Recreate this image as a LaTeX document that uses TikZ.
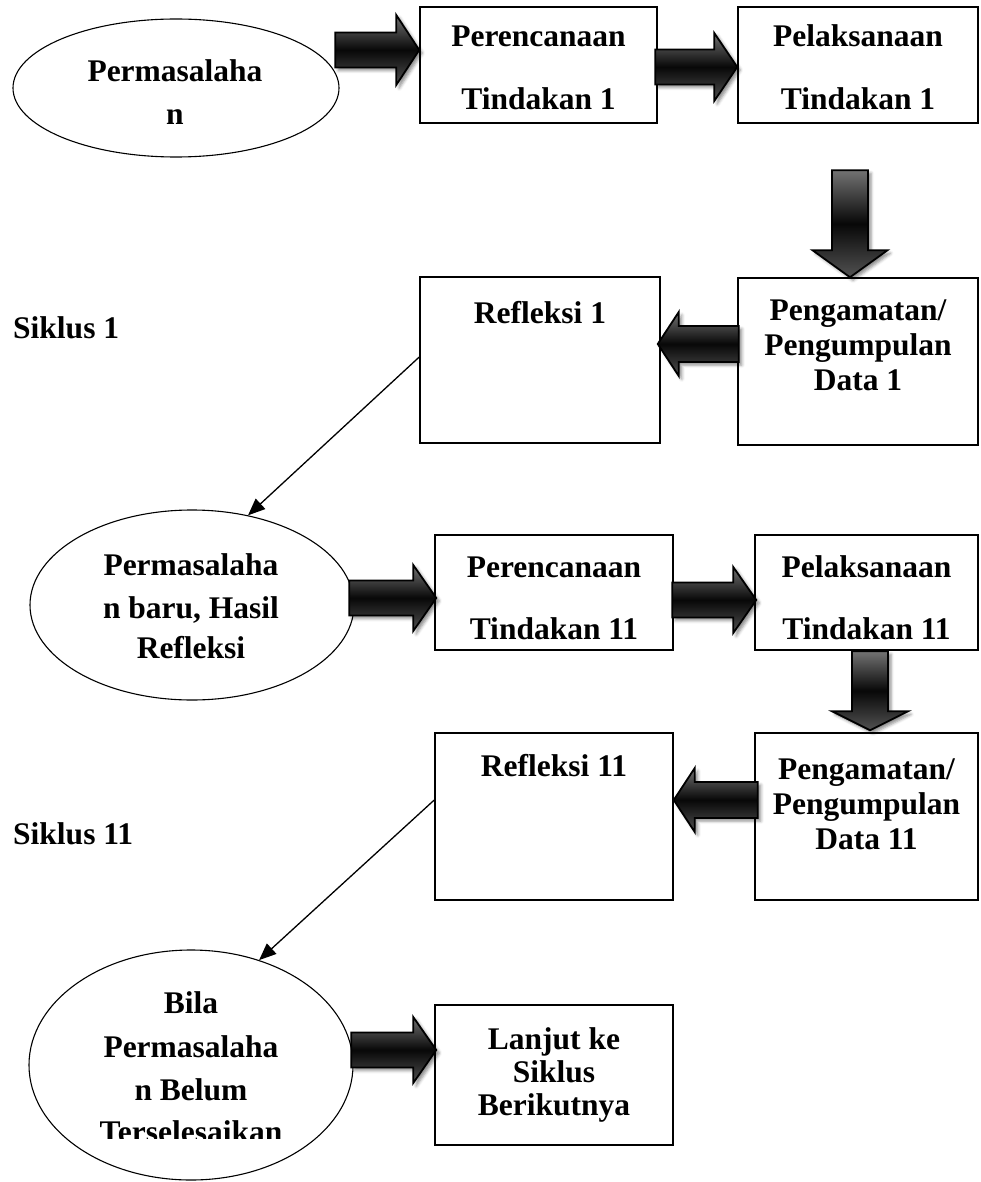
\documentclass[tikz,border=0pt]{standalone}
\usepackage{fontspec}
\setmainfont{Liberation Serif}
\usetikzlibrary{shapes.geometric,arrows.meta,shadows.blur}
\tikzset{
  box/.style={draw=black, line width=1.5pt, rectangle, inner sep=0pt},
  oval/.style={draw=black, line width=1.1pt, ellipse, inner sep=0pt},
  txt/.style={font=\fontsize{31.5}{36}\selectfont\bfseries, inner sep=0pt, anchor=base},
  blk/.style={draw=black, line width=1.8pt, line join=miter,
    top color=black!55, bottom color=black!68, middle color=black!97,
    blur shadow={shadow xshift=3pt, shadow yshift=-3pt, shadow blur radius=3pt, shadow opacity=45}},
  link/.style={line width=1.3pt, -{Triangle[length=17pt,width=14pt]}}
}
% right-pointing block arrow: tip, length, head half-width, head length
\newcommand{\rblk}[4]{\begin{scope}[shift={(#1)}]
  \path[blk] (0,0) -- (-#4,#3) -- (-#4,17.5) -- (-#2,17.5) -- (-#2,-17.5) -- (-#4,-17.5) -- (-#4,-#3) -- cycle;
  \end{scope}}
\newcommand{\lblk}[4]{\begin{scope}[shift={(#1)}]
  \path[blk] (0,0) -- (#4,#3) -- (#4,18) -- (#2,18) -- (#2,-18) -- (#4,-18) -- (#4,-#3) -- cycle;
  \end{scope}}
\newcommand{\dblk}[4]{\begin{scope}[shift={(#1)}]
  \path[blk] (0,0) -- (-#3,#4) -- (-18,#4) -- (-18,#2) -- (18,#2) -- (18,#4) -- (#3,#4) -- cycle;
  \end{scope}}
\begin{document}
\begin{tikzpicture}[x=1pt,y=1pt]
\useasboundingbox (0,0) rectangle (980,-1182);
% shapes
\node[oval, minimum width=326pt, minimum height=138pt] (e1) at (176,-88) {};
\node[box, minimum width=237pt, minimum height=116pt] (p1) at (538.5,-65) {};
\node[box, minimum width=240pt, minimum height=116pt] (l1) at (858,-65) {};
\node[box, minimum width=240pt, minimum height=166pt] (r1) at (540,-360) {};
\node[box, minimum width=240pt, minimum height=167pt] (g1) at (858,-361.5) {};
\node[oval, minimum width=324pt, minimum height=190pt] (e2) at (192,-605) {};
\node[box, minimum width=238pt, minimum height=115pt] (p2) at (554,-592.5) {};
\node[box, minimum width=223pt, minimum height=115pt] (l2) at (866.5,-592.5) {};
\node[box, minimum width=238pt, minimum height=167pt] (r2) at (554,-816.5) {};
\node[box, minimum width=223pt, minimum height=167pt] (g2) at (866.5,-816.5) {};
\node[oval, minimum width=324pt, minimum height=230pt] (e3) at (191,-1065) {};
\node[box, minimum width=238pt, minimum height=140pt] (lj) at (554,-1075) {};
% texts
\node[txt] (t1a) at (175,-82) {Permasalaha};
\node[txt] (t1b) at (175,-125) {n};
\node[txt] (t2a) at (538.5,-47) {Perencanaan};
\node[txt] (t2b) at (538.5,-110) {Tindakan 1};
\node[txt] (t3a) at (858,-47) {Pelaksanaan};
\node[txt] (t3b) at (858,-110) {Tindakan 1};
\node[txt] (t4) at (540,-323) {Refleksi 1};
\node[txt] (t5a) at (858,-320) {Pengamatan/};
\node[txt] (t5b) at (858,-355) {Pengumpulan};
\node[txt] (t5c) at (858,-390) {Data 1};
\node[txt, anchor=base west] (s1) at (13,-338) {Siklus 1};
\node[txt] (t6a) at (191,-575) {Permasalaha};
\node[txt] (t6b) at (191,-618) {n baru, Hasil};
\node[txt] (t6c) at (191,-658) {Refleksi};
\node[txt] (t7a) at (554,-577) {Perencanaan};
\node[txt] (t7b) at (554,-639) {Tindakan 11};
\node[txt] (t8a) at (866.5,-577) {Pelaksanaan};
\node[txt] (t8b) at (866.5,-639) {Tindakan 11};
\node[txt] (t9) at (554,-776) {Refleksi 11};
\node[txt] (t10a) at (866.5,-779) {Pengamatan/};
\node[txt] (t10b) at (866.5,-814) {Pengumpulan};
\node[txt] (t10c) at (866.5,-849) {Data 11};
\node[txt, anchor=base west] (s2) at (13,-844) {Siklus 11};
\node[txt] (t11a) at (191,-1013) {Bila};
\node[txt] (t11b) at (191,-1057) {Permasalaha};
\node[txt] (t11c) at (191,-1100) {n Belum};
\begin{scope}
  \clip (0,-1138) rectangle (980,-1100);
  \node[txt] (t11d) at (191,-1142) {Terselesaikan};
\end{scope}
\node[txt] (t12a) at (554,-1049) {Lanjut ke};
\node[txt] (t12b) at (554,-1082) {Siklus};
\node[txt] (t12c) at (554,-1115) {Berikutnya};
% block arrows
\path ([yshift=15pt]p1.west) coordinate (a1);
\path ([yshift=-2pt]l1.west) coordinate (a2);
\path ([xshift=-8pt]g1.north) coordinate (a3);
\path ([xshift=-3pt,yshift=16pt]r1.east) coordinate (a4);
\path ([xshift=2pt,yshift=-5.5pt]p2.west) coordinate (a5);
\path ([xshift=2pt,yshift=-7.5pt]l2.west) coordinate (a6);
\path ([xshift=3.5pt,yshift=2pt]g2.north) coordinate (a7);
\path ([yshift=16.5pt]r2.east) coordinate (a8);
\path ([xshift=2pt,yshift=25pt]lj.west) coordinate (a9);
\rblk{a1}{84}{35}{23}
\rblk{a2}{82}{34}{23}
\dblk{a3}{107}{37.5}{27}
\lblk{a4}{81}{32}{21}
\rblk{a5}{87}{33}{23}
\rblk{a6}{84}{33}{23}
\dblk{a7}{79}{38}{19}
\lblk{a8}{84}{32}{21}
\rblk{a9}{85}{33}{23}
% thin connectors
\draw[link] ([yshift=3pt]r1.west) -- (e2.58);
\draw[link] ([yshift=16.5pt]r2.west) -- (e3.57);
\end{tikzpicture}
\end{document}
